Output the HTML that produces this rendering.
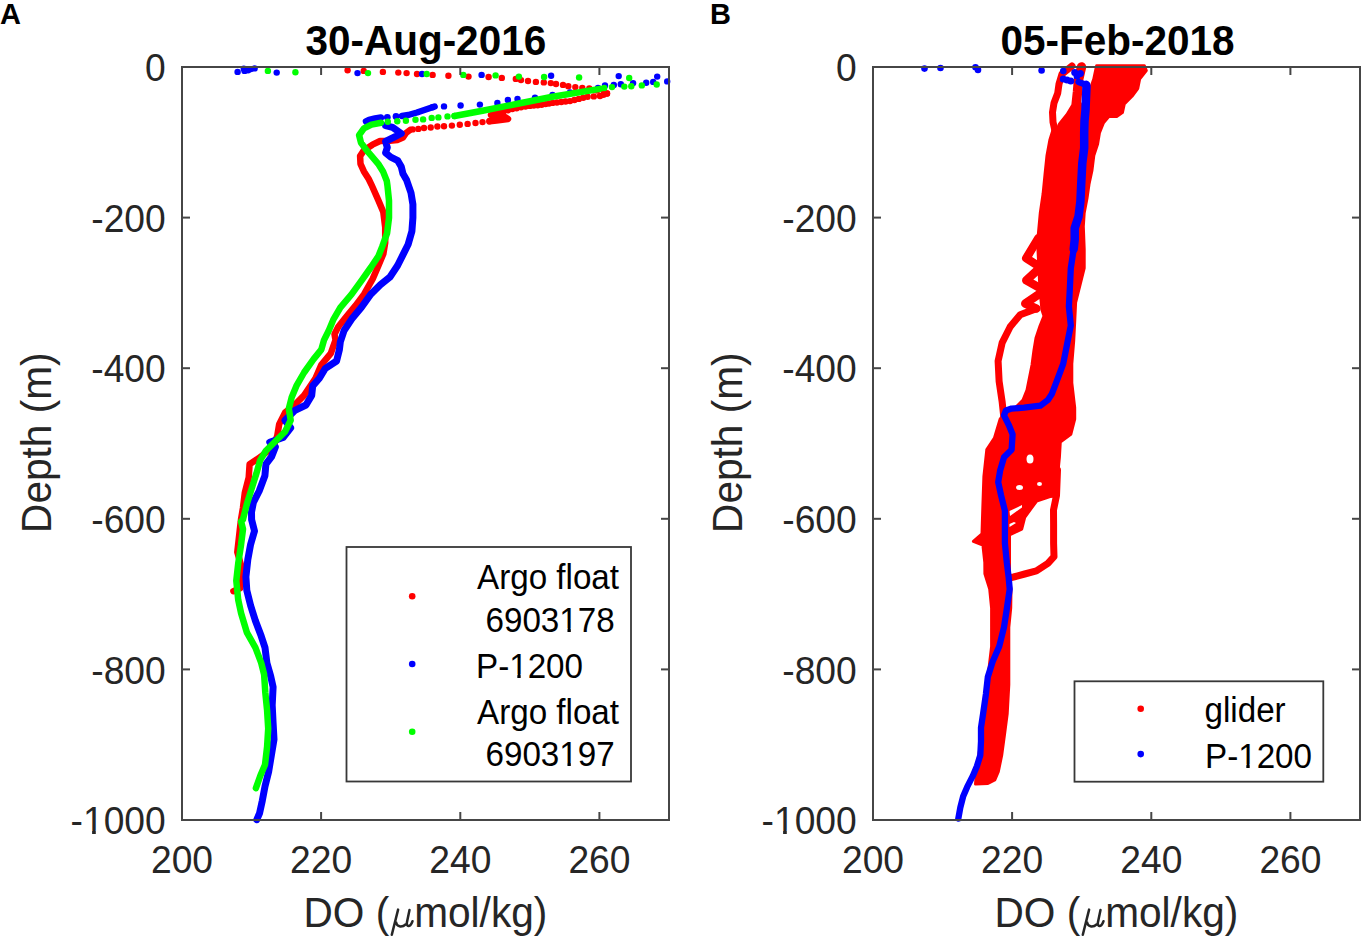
<!DOCTYPE html>
<html><head><meta charset="utf-8"><style>
html,body{margin:0;padding:0;background:#fff;overflow:hidden;}
svg{display:block;}
text{font-family:"Liberation Sans",sans-serif;}
.tk{font-size:37.2px;fill:#262626;}
.lb{font-size:40.6px;fill:#262626;}
.mu{font-family:"Liberation Serif",serif;font-style:italic;font-size:46px;}
.ti{font-size:40.5px;font-weight:bold;fill:#000;}
.pl{font-size:29px;font-weight:bold;fill:#000;}
.lg{font-size:33.2px;fill:#000;}
</style></head><body>
<svg width="1371" height="942" viewBox="0 0 1371 942">
<rect width="1371" height="942" fill="#fff"/>
<circle cx="347.6" cy="70.2" r="3.2" fill="#ff0000"/><circle cx="363.7" cy="70.9" r="3.2" fill="#ff0000"/><circle cx="382.9" cy="71.9" r="3.2" fill="#ff0000"/><circle cx="398.3" cy="72.6" r="3.2" fill="#ff0000"/><circle cx="406.6" cy="73.1" r="3.2" fill="#ff0000"/><circle cx="417.0" cy="74.0" r="3.2" fill="#ff0000"/><circle cx="432.6" cy="74.9" r="3.2" fill="#ff0000"/><circle cx="448.4" cy="75.8" r="3.2" fill="#ff0000"/><circle cx="468.5" cy="76.6" r="3.2" fill="#ff0000"/><circle cx="488.6" cy="77.0" r="3.2" fill="#ff0000"/><circle cx="501.8" cy="77.9" r="3.2" fill="#ff0000"/><circle cx="515.8" cy="78.9" r="3.2" fill="#ff0000"/>
<circle cx="521.0" cy="80.1" r="3.2" fill="#ff0000"/><circle cx="528.0" cy="81.0" r="3.2" fill="#ff0000"/><circle cx="535.9" cy="81.9" r="3.2" fill="#ff0000"/><circle cx="543.8" cy="82.4" r="3.2" fill="#ff0000"/><circle cx="550.8" cy="83.1" r="3.2" fill="#ff0000"/><circle cx="556.0" cy="84.0" r="3.2" fill="#ff0000"/><circle cx="563.0" cy="84.9" r="3.2" fill="#ff0000"/><circle cx="568.3" cy="86.3" r="3.2" fill="#ff0000"/><circle cx="575.3" cy="87.1" r="3.2" fill="#ff0000"/><circle cx="582.3" cy="88.0" r="3.2" fill="#ff0000"/><circle cx="589.3" cy="88.4" r="3.2" fill="#ff0000"/><circle cx="597.0" cy="90.5" r="3.2" fill="#ff0000"/><circle cx="604.0" cy="92.5" r="3.2" fill="#ff0000"/><circle cx="607.0" cy="93.5" r="3.2" fill="#ff0000"/>
<circle cx="607.0" cy="93.5" r="3.2" fill="#ff0000"/><circle cx="603.5" cy="94.8" r="3.2" fill="#ff0000"/><circle cx="600.0" cy="96.0" r="3.2" fill="#ff0000"/><circle cx="593.8" cy="96.4" r="3.2" fill="#ff0000"/><circle cx="587.6" cy="96.8" r="3.2" fill="#ff0000"/><circle cx="583.2" cy="97.8" r="3.2" fill="#ff0000"/><circle cx="578.8" cy="98.9" r="3.2" fill="#ff0000"/><circle cx="574.4" cy="100.0" r="3.2" fill="#ff0000"/><circle cx="570.0" cy="101.1" r="3.2" fill="#ff0000"/><circle cx="565.6" cy="101.5" r="3.2" fill="#ff0000"/><circle cx="561.3" cy="102.0" r="3.2" fill="#ff0000"/><circle cx="556.9" cy="102.5" r="3.2" fill="#ff0000"/><circle cx="552.5" cy="102.9" r="3.2" fill="#ff0000"/><circle cx="549.0" cy="103.5" r="3.2" fill="#ff0000"/><circle cx="545.5" cy="104.1" r="3.2" fill="#ff0000"/><circle cx="541.6" cy="104.7" r="3.2" fill="#ff0000"/><circle cx="537.7" cy="105.2" r="3.2" fill="#ff0000"/><circle cx="533.8" cy="105.6" r="3.2" fill="#ff0000"/><circle cx="529.8" cy="105.9" r="3.2" fill="#ff0000"/><circle cx="525.4" cy="106.6" r="3.2" fill="#ff0000"/><circle cx="521.0" cy="107.3" r="3.2" fill="#ff0000"/><circle cx="516.6" cy="108.2" r="3.2" fill="#ff0000"/><circle cx="512.3" cy="109.0" r="3.2" fill="#ff0000"/><circle cx="507.9" cy="110.3" r="3.2" fill="#ff0000"/><circle cx="503.5" cy="111.6" r="3.2" fill="#ff0000"/><circle cx="500.0" cy="112.5" r="3.2" fill="#ff0000"/><circle cx="496.5" cy="113.4" r="3.2" fill="#ff0000"/>
<polyline points="496.5,113.4 491.0,115.0 495.0,117.0 505.0,117.0 508.0,119.0 496.5,120.4 489.5,121.3" fill="none" stroke="#ff0000" stroke-width="6.5" stroke-linecap="round" stroke-linejoin="round"/>
<circle cx="489.5" cy="121.3" r="3.2" fill="#ff0000"/><circle cx="482.5" cy="122.1" r="3.2" fill="#ff0000"/><circle cx="475.5" cy="123.0" r="3.2" fill="#ff0000"/><circle cx="467.6" cy="123.9" r="3.2" fill="#ff0000"/><circle cx="459.8" cy="124.8" r="3.2" fill="#ff0000"/><circle cx="451.9" cy="125.6" r="3.2" fill="#ff0000"/><circle cx="444.0" cy="126.2" r="3.2" fill="#ff0000"/><circle cx="437.4" cy="126.5" r="3.2" fill="#ff0000"/><circle cx="430.7" cy="127.5" r="3.2" fill="#ff0000"/><circle cx="424.0" cy="128.0" r="3.2" fill="#ff0000"/><circle cx="418.3" cy="128.9" r="3.2" fill="#ff0000"/><circle cx="412.6" cy="129.4" r="3.2" fill="#ff0000"/>
<polyline points="410.0,130.0 406.0,133.0 403.0,137.5 397.3,139.9 389.7,140.8 380.1,141.0 372.5,144.7 363.9,150.4 360.1,156.1 360.5,163.8 363.9,171.4 368.7,179.0 371.5,184.8 378.5,200.6 383.3,212.0 385.2,227.3 385.2,242.6 383.3,254.1 378.5,265.5 372.7,278.9 364.1,294.2 355.5,305.7 346.0,317.1 338.3,326.7 334.5,334.3 335.5,340.1 330.8,353.4 321.3,364.8 315.5,378.2 304.1,395.4 294.5,405.0 285.0,412.6 279.2,424.1 277.3,435.5 273.5,447.0 258.2,458.5 249.6,464.2 248.7,477.6 244.8,492.9 242.9,508.2 241.0,519.6 240.1,527.2 237.3,552.0 241.1,565.4 240.1,588.3 233.4,591.2" fill="none" stroke="#ff0000" stroke-width="6.5" stroke-linecap="round" stroke-linejoin="round"/>
<circle cx="237.6" cy="71.9" r="3.2" fill="#0000ff"/><circle cx="243.8" cy="68.8" r="3.2" fill="#0000ff"/><circle cx="244.6" cy="70.9" r="3.2" fill="#0000ff"/><circle cx="248.1" cy="70.2" r="3.2" fill="#0000ff"/><circle cx="250.8" cy="69.1" r="3.2" fill="#0000ff"/><circle cx="254.6" cy="68.4" r="3.2" fill="#0000ff"/><circle cx="276.7" cy="72.6" r="3.2" fill="#0000ff"/><circle cx="357.5" cy="73.1" r="3.2" fill="#0000ff"/><circle cx="422.0" cy="74.0" r="3.2" fill="#0000ff"/><circle cx="481.6" cy="74.9" r="3.2" fill="#0000ff"/><circle cx="551.1" cy="75.8" r="3.2" fill="#0000ff"/><circle cx="618.7" cy="76.1" r="3.2" fill="#0000ff"/><circle cx="657.2" cy="76.6" r="3.2" fill="#0000ff"/><circle cx="667.2" cy="81.4" r="3.2" fill="#0000ff"/><circle cx="653.2" cy="81.9" r="3.2" fill="#0000ff"/><circle cx="646.2" cy="82.8" r="3.2" fill="#0000ff"/><circle cx="633.1" cy="83.1" r="3.2" fill="#0000ff"/><circle cx="620.8" cy="84.2" r="3.2" fill="#0000ff"/><circle cx="613.8" cy="84.9" r="3.2" fill="#0000ff"/><circle cx="605.0" cy="85.4" r="3.2" fill="#0000ff"/><circle cx="598.0" cy="88.0" r="3.2" fill="#0000ff"/><circle cx="570.0" cy="92.4" r="3.2" fill="#0000ff"/><circle cx="552.5" cy="95.0" r="3.2" fill="#0000ff"/><circle cx="535.0" cy="97.6" r="3.2" fill="#0000ff"/><circle cx="517.5" cy="98.9" r="3.2" fill="#0000ff"/><circle cx="507.9" cy="99.9" r="3.2" fill="#0000ff"/><circle cx="497.4" cy="102.9" r="3.2" fill="#0000ff"/><circle cx="479.9" cy="104.6" r="3.2" fill="#0000ff"/><circle cx="460.6" cy="105.5" r="3.2" fill="#0000ff"/><circle cx="444.0" cy="106.4" r="3.2" fill="#0000ff"/><circle cx="432.6" cy="107.3" r="3.2" fill="#0000ff"/>
<polyline points="434.6,106.5 425.8,109.5 417.0,112.5 408.3,115.0 402.0,116.0" fill="none" stroke="#0000ff" stroke-width="6.5" stroke-linecap="round" stroke-linejoin="round"/>
<polyline points="381.0,117.5 375.0,118.5 369.0,120.0 366.0,121.5" fill="none" stroke="#0000ff" stroke-width="6.5" stroke-linecap="round" stroke-linejoin="round"/>
<circle cx="387.3" cy="117.3" r="3.4" fill="#0000ff"/><circle cx="396.0" cy="116.5" r="3.4" fill="#0000ff"/>
<polyline points="385.6,125.6 392.6,127.4 401.3,133.5 392.6,137.9 385.6,141.4 387.3,147.5 385.6,152.8 390.8,157.2 397.8,160.7 401.3,166.8 403.0,173.8 406.6,180.0 407.1,181.5 411.0,192.9 412.9,204.4 412.9,217.8 411.9,231.2 408.1,244.5 403.3,254.1 397.6,265.5 390.0,277.0 380.4,284.7 370.8,294.2 361.3,307.6 351.7,319.1 344.1,330.5 340.3,342.0 339.4,349.6 336.6,361.0 325.1,368.7 319.4,378.2 312.7,385.9 311.7,395.4 306.0,405.0 294.5,410.7 285.0,420.3 290.7,427.9 283.1,437.5 269.7,442.2 275.4,447.0 271.6,456.6 265.9,464.2 264.9,475.7 259.2,491.0 253.4,502.4 251.5,512.0 251.6,519.6 254.5,531.0 250.6,544.4 247.8,559.7 245.9,576.9 246.8,590.3 250.6,605.5 255.4,620.8 261.2,636.1 265.0,647.6 266.9,662.9 270.7,676.3 273.1,687.1 272.2,705.1 273.1,723.2 274.0,739.4 271.3,755.6 268.6,771.9 265.0,786.3 262.3,800.7 259.5,813.4 256.8,819.7" fill="none" stroke="#0000ff" stroke-width="7" stroke-linecap="round" stroke-linejoin="round"/>
<circle cx="267.9" cy="70.9" r="3.2" fill="#00ff00"/><circle cx="295.4" cy="72.3" r="3.2" fill="#00ff00"/><circle cx="368.0" cy="73.1" r="3.2" fill="#00ff00"/><circle cx="426.7" cy="74.0" r="3.2" fill="#00ff00"/><circle cx="463.3" cy="74.9" r="3.2" fill="#00ff00"/><circle cx="495.6" cy="75.4" r="3.2" fill="#00ff00"/><circle cx="518.9" cy="76.6" r="3.2" fill="#00ff00"/><circle cx="544.1" cy="77.0" r="3.2" fill="#00ff00"/><circle cx="579.1" cy="77.5" r="3.2" fill="#00ff00"/><circle cx="629.2" cy="78.0" r="3.2" fill="#00ff00"/><circle cx="656.7" cy="84.5" r="3.2" fill="#00ff00"/><circle cx="641.8" cy="85.4" r="3.2" fill="#00ff00"/><circle cx="631.3" cy="86.3" r="3.2" fill="#00ff00"/><circle cx="624.3" cy="86.6" r="3.2" fill="#00ff00"/><circle cx="612.0" cy="87.1" r="3.2" fill="#00ff00"/><circle cx="604.2" cy="88.0" r="3.2" fill="#00ff00"/>
<polyline points="600.0,88.9 552.5,96.8 517.5,103.8 482.5,110.8 454.5,116.0" fill="none" stroke="#00ff00" stroke-width="6.5" stroke-linecap="round" stroke-linejoin="round"/>
<circle cx="454.5" cy="116.0" r="3.2" fill="#00ff00"/><circle cx="447.5" cy="116.4" r="3.2" fill="#00ff00"/><circle cx="438.4" cy="117.4" r="3.2" fill="#00ff00"/><circle cx="431.7" cy="117.9" r="3.2" fill="#00ff00"/><circle cx="423.1" cy="119.4" r="3.2" fill="#00ff00"/><circle cx="415.5" cy="119.8" r="3.2" fill="#00ff00"/><circle cx="405.9" cy="120.8" r="3.2" fill="#00ff00"/><circle cx="397.3" cy="121.3" r="3.2" fill="#00ff00"/><circle cx="387.8" cy="121.7" r="3.2" fill="#00ff00"/>
<polyline points="381.1,122.7 371.5,124.6 363.9,128.4 359.1,135.1 361.0,142.8 366.7,150.4 372.5,157.1 378.2,163.8 383.0,171.4 386.8,181.0 387.5,186.0 389.0,200.6 389.0,217.8 387.1,233.1 382.3,246.4 378.5,256.0 370.8,267.5 361.3,280.8 351.7,294.2 340.3,307.6 333.6,319.1 328.8,330.5 324.0,340.1 321.3,349.6 313.6,359.1 304.1,372.5 296.4,385.9 291.7,397.3 288.8,408.8 290.7,420.3 285.0,431.7 275.4,441.3 265.9,450.8 260.1,460.4 256.3,473.8 251.5,489.1 246.8,504.3 242.9,519.6 241.1,521.5 243.0,529.1 241.1,544.4 238.2,563.5 236.3,580.7 238.2,599.8 241.1,613.2 246.8,632.3 255.4,647.6 261.2,662.9 264.1,674.4 265.3,692.5 267.1,710.5 268.2,728.6 267.1,746.6 265.0,764.7 260.4,775.5 255.9,788.1" fill="none" stroke="#00ff00" stroke-width="6.5" stroke-linecap="round" stroke-linejoin="round"/>
<polygon points="1053.6,128.0 1062.0,126.0 1072.0,118.0 1082.0,105.0 1090.0,90.0 1093.8,79.1 1096.6,65.7 1144.4,65.7 1146.3,70.5 1139.6,79.1 1137.7,88.7 1132.0,96.3 1124.3,104.0 1122.4,112.6 1116.7,116.4 1109.0,116.4 1103.3,123.1 1099.5,132.6 1097.6,144.1 1093.8,155.5 1091.9,170.8 1089.0,184.2 1087.1,197.6 1084.2,212.9 1083.3,226.3 1084.2,249.1 1084.2,268.2 1080.4,283.5 1075.6,302.6 1074.7,321.7 1073.7,340.8 1071.8,363.8 1071.8,382.9 1074.7,407.7 1074.7,419.1 1070.8,434.4 1060.3,442.0 1059.4,457.3 1057.5,476.4 1057.0,496.0 1050.0,496.5 1036.6,501.0 1024.7,517.3 1021.7,529.2 1009.5,535.0 1009.5,578.0 1011.0,590.0 1010.7,608.2 1008.8,627.3 1008.8,684.7 1007.2,713.8 1004.5,734.5 1001.7,755.2 998.3,771.7 994.8,780.0 987.9,783.4 975.5,784.1 977.0,766.0 981.0,741.0 983.0,713.0 986.0,694.0 988.0,677.0 991.6,646.4 991.6,608.2 989.7,589.1 984.9,573.8 984.8,562.4 982.9,545.2 973.4,541.4 982.0,533.8 982.9,505.1 983.9,476.4 986.8,449.7 994.4,438.2 1000.1,419.1 1004.0,414.0 1010.0,410.0 1016.0,407.0 1023.0,400.0 1027.0,390.0 1029.0,380.0 1032.0,365.0 1034.0,350.0 1036.0,338.0 1040.0,326.0 1044.0,316.0 1042.0,310.0 1040.0,290.0 1039.0,270.0 1038.0,250.0 1038.0,238.0 1040.3,212.9 1043.1,193.8 1045.0,174.7 1047.0,155.5 1049.8,140.3" fill="#ff0000" stroke="#ff0000" stroke-width="3" stroke-linejoin="round"/>
<polyline points="1072.0,66.0 1062.0,74.0 1059.0,84.0 1057.7,93.2 1054.0,103.0 1052.5,112.3 1053.0,121.9 1055.0,131.0" fill="none" stroke="#ff0000" stroke-width="7" stroke-linecap="round" stroke-linejoin="round"/>
<polyline points="1081.5,67.0 1078.5,80.0 1077.5,92.0 1076.0,106.0 1070.0,116.0 1062.0,126.0" fill="none" stroke="#ff0000" stroke-width="9.5" stroke-linecap="round" stroke-linejoin="round"/>
<polyline points="1038.4,238.1 1026.3,258.2 1040.4,267.3 1026.3,280.4 1044.4,290.5 1025.3,303.6 1036.4,308.6" fill="none" stroke="#ff0000" stroke-width="8.5" stroke-linecap="round" stroke-linejoin="round"/>
<polyline points="1036.4,308.6 1020.2,314.7 1010.2,326.8 1002.1,342.9 998.1,361.0 999.1,381.2 1002.1,401.4 1004.1,420.0" fill="none" stroke="#ff0000" stroke-width="7" stroke-linecap="round" stroke-linejoin="round"/>
<polyline points="1057.5,470.0 1056.5,495.5 1053.5,510.0 1053.6,524.2 1053.6,543.3 1054.0,556.7 1047.9,563.3 1036.4,570.9 1024.7,574.0 1013.5,577.0 1009.0,578.0" fill="none" stroke="#ff0000" stroke-width="7" stroke-linecap="round" stroke-linejoin="round"/>
<polygon points="1009.5,511.0 1016.0,508.0 1022.0,505.0 1022.0,507.5 1010.0,516.0" fill="#fff"/>
<polygon points="1009.5,524.0 1014.0,522.0 1016.0,523.0 1009.5,527.0" fill="#fff"/>
<ellipse cx="1030" cy="459" rx="3.5" ry="4.5" fill="#fff"/>
<ellipse cx="1019.5" cy="487.5" rx="3.5" ry="2.5" fill="#fff"/>
<ellipse cx="1039.5" cy="484" rx="2.5" ry="2" fill="#fff"/>
<circle cx="924.5" cy="68.6" r="3.3" fill="#0000ff"/><circle cx="940.5" cy="68.0" r="3.3" fill="#0000ff"/><circle cx="975.5" cy="67.3" r="3.3" fill="#0000ff"/><circle cx="978.0" cy="69.9" r="3.3" fill="#0000ff"/><circle cx="1041.6" cy="70.5" r="3.3" fill="#0000ff"/><circle cx="1063.3" cy="71.1" r="3.3" fill="#0000ff"/>
<circle cx="1074.7" cy="72.4" r="3.5" fill="#0000ff"/><circle cx="1080.4" cy="73.4" r="3.5" fill="#0000ff"/><circle cx="1077.0" cy="76.0" r="3.5" fill="#0000ff"/><circle cx="1063.2" cy="79.1" r="3.5" fill="#0000ff"/><circle cx="1067.0" cy="80.0" r="3.5" fill="#0000ff"/><circle cx="1070.8" cy="81.0" r="3.5" fill="#0000ff"/>
<polyline points="1078.5,82.0 1086.1,84.8 1086.1,84.8 1086.5,86.5 1086.0,98.0 1085.5,110.0 1084.5,121.0 1084.2,132.6 1084.2,147.9 1082.3,163.2 1081.3,182.3 1080.4,201.4 1078.5,216.7 1074.7,228.2 1074.7,239.6 1073.7,249.1 1070.8,268.2 1069.9,287.3 1068.9,306.4 1070.8,325.5 1067.0,344.7 1063.2,363.8 1057.5,379.1 1051.7,394.3 1047.9,400.0 1040.3,405.7 1024.0,407.6 1011.6,408.6 1005.9,410.5 1004.0,415.3 1008.7,424.8 1012.6,434.4 1011.6,449.7 1004.0,457.3 1000.1,470.7 998.2,482.2 1001.1,495.5 1004.9,510.8 1004.9,524.2 1004.9,543.3 1006.8,562.4 1008.7,577.7 1009.7,589.1 1006.9,608.2 1004.0,627.3 999.2,646.4 992.6,661.7 987.8,677.0 985.9,694.2 983.1,713.8 981.0,727.6 981.0,741.4 980.3,755.2 976.9,766.2 972.8,775.9 967.2,786.9 963.1,796.6 960.3,807.6 958.3,818.6" fill="none" stroke="#0000ff" stroke-width="6.3" stroke-linecap="round" stroke-linejoin="round"/>
<polyline points="1086.1,84.8 1086.5,86.5 1086.0,98.0 1085.5,110.0 1084.5,121.0 1084.2,132.6 1084.2,147.9 1082.3,163.2 1081.3,182.3 1080.4,201.4 1078.5,216.7 1074.7,228.2 1074.7,239.6 1073.7,249.1" fill="none" stroke="#0000ff" stroke-width="8.5" stroke-linecap="round" stroke-linejoin="round"/>
<rect x="182" y="67" width="487" height="753" fill="none" stroke="#464646" stroke-width="2"/>
<line x1="321.1" y1="820" x2="321.1" y2="812" stroke="#464646" stroke-width="2"/>
<line x1="321.1" y1="67" x2="321.1" y2="75" stroke="#464646" stroke-width="2"/>
<line x1="460.3" y1="820" x2="460.3" y2="812" stroke="#464646" stroke-width="2"/>
<line x1="460.3" y1="67" x2="460.3" y2="75" stroke="#464646" stroke-width="2"/>
<line x1="599.4" y1="820" x2="599.4" y2="812" stroke="#464646" stroke-width="2"/>
<line x1="599.4" y1="67" x2="599.4" y2="75" stroke="#464646" stroke-width="2"/>
<line x1="182" y1="217.6" x2="190" y2="217.6" stroke="#464646" stroke-width="2"/>
<line x1="669" y1="217.6" x2="661" y2="217.6" stroke="#464646" stroke-width="2"/>
<line x1="182" y1="368.2" x2="190" y2="368.2" stroke="#464646" stroke-width="2"/>
<line x1="669" y1="368.2" x2="661" y2="368.2" stroke="#464646" stroke-width="2"/>
<line x1="182" y1="518.8" x2="190" y2="518.8" stroke="#464646" stroke-width="2"/>
<line x1="669" y1="518.8" x2="661" y2="518.8" stroke="#464646" stroke-width="2"/>
<line x1="182" y1="669.4" x2="190" y2="669.4" stroke="#464646" stroke-width="2"/>
<line x1="669" y1="669.4" x2="661" y2="669.4" stroke="#464646" stroke-width="2"/>
<g transform="translate(182.00,872.50) scale(1,1.03)"><text id="t12" text-anchor="middle" class="tk">200</text></g>
<g transform="translate(321.14,872.50) scale(1,1.03)"><text id="t13" text-anchor="middle" class="tk">220</text></g>
<g transform="translate(460.29,872.50) scale(1,1.03)"><text id="t14" text-anchor="middle" class="tk">240</text></g>
<g transform="translate(599.43,872.50) scale(1,1.03)"><text id="t15" text-anchor="middle" class="tk">260</text></g>
<g transform="translate(165.70,81.20) scale(1,1.03)"><text id="t16" text-anchor="end" class="tk">0</text></g>
<g transform="translate(165.70,231.80) scale(1,1.03)"><text id="t17" text-anchor="end" class="tk">-200</text></g>
<g transform="translate(165.70,382.40) scale(1,1.03)"><text id="t18" text-anchor="end" class="tk">-400</text></g>
<g transform="translate(165.70,533.00) scale(1,1.03)"><text id="t19" text-anchor="end" class="tk">-600</text></g>
<g transform="translate(165.70,683.60) scale(1,1.03)"><text id="t20" text-anchor="end" class="tk">-800</text></g>
<g transform="translate(165.70,834.20) scale(1,1.03)"><text id="t21" text-anchor="end" class="tk">-1000</text><rect x="-81.12" y="-3.48" width="7.52" height="4.58" fill="#fff"/><rect x="-69.91" y="-3.48" width="7.53" height="4.58" fill="#fff"/></g>
<g transform="translate(303.50,926.50) scale(1,1.03)"><text id="t22" class="lb">DO (</text></g>
<g transform="translate(414.20,926.50) scale(1,1.03)"><text id="t23" class="lb">mol/kg)</text></g>
<path transform="translate(0,0)" d="M398.1,909.6 L391.8,934.7 M396.2,922.5 C396.6,926.5 401.5,928 405.9,924.2 M409.5,909.9 L406.9,922.5 C406.2,926.5 409.8,928.5 412.5,921.2" fill="none" stroke="#262626" stroke-width="2.5" stroke-linecap="round"/>
<text transform="translate(51.20,442.70) scale(1.03,1) rotate(-90)" text-anchor="middle" class="lb">Depth (m)</text>
<rect x="873" y="67" width="487" height="753" fill="none" stroke="#464646" stroke-width="2"/>
<line x1="1012.1" y1="820" x2="1012.1" y2="812" stroke="#464646" stroke-width="2"/>
<line x1="1012.1" y1="67" x2="1012.1" y2="75" stroke="#464646" stroke-width="2"/>
<line x1="1151.3" y1="820" x2="1151.3" y2="812" stroke="#464646" stroke-width="2"/>
<line x1="1151.3" y1="67" x2="1151.3" y2="75" stroke="#464646" stroke-width="2"/>
<line x1="1290.4" y1="820" x2="1290.4" y2="812" stroke="#464646" stroke-width="2"/>
<line x1="1290.4" y1="67" x2="1290.4" y2="75" stroke="#464646" stroke-width="2"/>
<line x1="873" y1="217.6" x2="881" y2="217.6" stroke="#464646" stroke-width="2"/>
<line x1="1360" y1="217.6" x2="1352" y2="217.6" stroke="#464646" stroke-width="2"/>
<line x1="873" y1="368.2" x2="881" y2="368.2" stroke="#464646" stroke-width="2"/>
<line x1="1360" y1="368.2" x2="1352" y2="368.2" stroke="#464646" stroke-width="2"/>
<line x1="873" y1="518.8" x2="881" y2="518.8" stroke="#464646" stroke-width="2"/>
<line x1="1360" y1="518.8" x2="1352" y2="518.8" stroke="#464646" stroke-width="2"/>
<line x1="873" y1="669.4" x2="881" y2="669.4" stroke="#464646" stroke-width="2"/>
<line x1="1360" y1="669.4" x2="1352" y2="669.4" stroke="#464646" stroke-width="2"/>
<g transform="translate(873.00,872.50) scale(1,1.03)"><text id="t24" text-anchor="middle" class="tk">200</text></g>
<g transform="translate(1012.14,872.50) scale(1,1.03)"><text id="t25" text-anchor="middle" class="tk">220</text></g>
<g transform="translate(1151.29,872.50) scale(1,1.03)"><text id="t26" text-anchor="middle" class="tk">240</text></g>
<g transform="translate(1290.43,872.50) scale(1,1.03)"><text id="t27" text-anchor="middle" class="tk">260</text></g>
<g transform="translate(856.70,81.20) scale(1,1.03)"><text id="t28" text-anchor="end" class="tk">0</text></g>
<g transform="translate(856.70,231.80) scale(1,1.03)"><text id="t29" text-anchor="end" class="tk">-200</text></g>
<g transform="translate(856.70,382.40) scale(1,1.03)"><text id="t30" text-anchor="end" class="tk">-400</text></g>
<g transform="translate(856.70,533.00) scale(1,1.03)"><text id="t31" text-anchor="end" class="tk">-600</text></g>
<g transform="translate(856.70,683.60) scale(1,1.03)"><text id="t32" text-anchor="end" class="tk">-800</text></g>
<g transform="translate(856.70,834.20) scale(1,1.03)"><text id="t33" text-anchor="end" class="tk">-1000</text><rect x="-81.12" y="-3.48" width="7.52" height="4.58" fill="#fff"/><rect x="-69.91" y="-3.48" width="7.53" height="4.58" fill="#fff"/></g>
<g transform="translate(994.50,926.50) scale(1,1.03)"><text id="t34" class="lb">DO (</text></g>
<g transform="translate(1105.20,926.50) scale(1,1.03)"><text id="t35" class="lb">mol/kg)</text></g>
<path transform="translate(691,0)" d="M398.1,909.6 L391.8,934.7 M396.2,922.5 C396.6,926.5 401.5,928 405.9,924.2 M409.5,909.9 L406.9,922.5 C406.2,926.5 409.8,928.5 412.5,921.2" fill="none" stroke="#262626" stroke-width="2.5" stroke-linecap="round"/>
<text transform="translate(742.20,442.70) scale(1.03,1) rotate(-90)" text-anchor="middle" class="lb">Depth (m)</text>
<g transform="translate(425.80,54.50) scale(1,1.03)"><text id="t8" text-anchor="middle" class="ti">30-Aug-2016</text></g>
<g transform="translate(1117.50,54.50) scale(1,1.03)"><text id="t9" text-anchor="middle" class="ti">05-Feb-2018</text></g>
<g transform="translate(0.00,24.00) scale(1,1.03)"><text id="t10" class="pl">A</text></g>
<g transform="translate(710.00,24.00) scale(1,1.03)"><text id="t11" class="pl">B</text></g>
<rect x="346.5" y="547" width="284.5" height="234.5" fill="#fff" stroke="#383838" stroke-width="1.8"/>
<circle cx="412.2" cy="596.3" r="3.3" fill="#f00"/>
<circle cx="412.2" cy="664" r="3.3" fill="#00f"/>
<circle cx="412.2" cy="731.7" r="3.3" fill="#0f0"/>
<g transform="translate(477.00,589.10) scale(1,1.03)"><text id="t1" class="lg">Argo float</text></g>
<g transform="translate(485.50,631.60) scale(1,1.03)"><text id="t2" class="lg">6903178</text><rect x="75.15" y="-3.18" width="6.82" height="4.28" fill="#fff"/><rect x="85.30" y="-3.18" width="6.86" height="4.28" fill="#fff"/></g>
<g transform="translate(476.00,677.50) scale(1,1.03)"><text id="t3" class="lg">P-1200</text><rect x="34.51" y="-3.18" width="6.82" height="4.28" fill="#fff"/><rect x="44.67" y="-3.18" width="6.86" height="4.28" fill="#fff"/></g>
<g transform="translate(477.00,724.00) scale(1,1.03)"><text id="t4" class="lg">Argo float</text></g>
<g transform="translate(485.50,766.20) scale(1,1.03)"><text id="t5" class="lg">6903197</text><rect x="75.15" y="-3.18" width="6.82" height="4.28" fill="#fff"/><rect x="85.30" y="-3.18" width="6.86" height="4.28" fill="#fff"/></g>
<rect x="1074.5" y="681.3" width="248.8" height="100.4" fill="#fff" stroke="#383838" stroke-width="1.8"/>
<circle cx="1140.7" cy="708.8" r="3.3" fill="#f00"/>
<circle cx="1140.7" cy="754.1" r="3.3" fill="#00f"/>
<g transform="translate(1204.50,722.10) scale(1,1.03)"><text id="t6" class="lg">glider</text></g>
<g transform="translate(1205.00,767.60) scale(1,1.03)"><text id="t7" class="lg">P-1200</text><rect x="34.51" y="-3.18" width="6.82" height="4.28" fill="#fff"/><rect x="44.67" y="-3.18" width="6.86" height="4.28" fill="#fff"/></g>
</svg>
</body></html>
